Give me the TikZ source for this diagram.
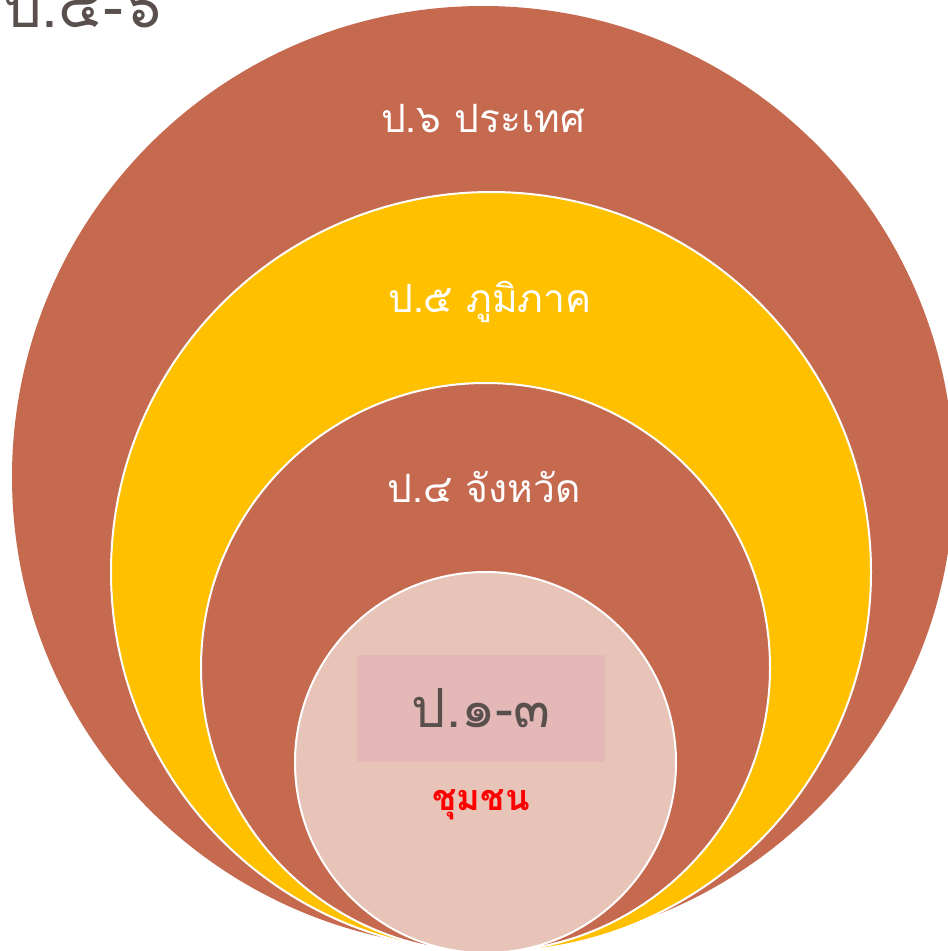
\documentclass[tikz,border=0pt]{standalone}
\usepackage{fontspec}
\newfontfamily\thaifont[Script=Thai]{Loma}
\usetikzlibrary{positioning}
\definecolor{brick}{RGB}{197,105,79}
\definecolor{gold}{RGB}{255,192,0}
\definecolor{blush}{RGB}{232,195,184}
\definecolor{rose}{RGB}{229,184,184}
\definecolor{ink}{RGB}{89,80,78}
\begin{document}
\begin{tikzpicture}[x=1pt,y=-1pt,
  ring/.style={circle,draw=white,line width=2pt,inner sep=0pt},
  lbl/.style={font=\thaifont\fontsize{39}{44}\selectfont,text=white}]
\useasboundingbox (0,0) rectangle (948,951);
% rings from outside in
\node[ring,draw=none,fill=brick,minimum size=942pt] (p6) at (483,477) {};
\node[ring,fill=gold,minimum size=760pt] (p5) at (491,572) {};
\node[ring,fill=brick,minimum size=569pt] (p4) at (485.5,667.5) {};
\node[ring,fill=blush,minimum size=381pt] (p13) at (485.5,762.5) {};
% labels
\node[lbl] (t6) at (483,119) {ป.๖ ประเทศ};
\node[lbl] (t5) at (490,302) {ป.๕ ภูมิภาค};
\node[lbl] (t4) at (484,487) {ป.๔ จังหวัด};
\node[fill=rose,minimum width=248pt,minimum height=107pt,
  font=\thaifont\fontsize{54}{60}\selectfont,text=ink] (t13) at (481,708.5) {ป.๑-๓};
\node[below=24pt of t13,font=\thaifont\bfseries\fontsize{36}{42}\selectfont,text=red] (tc) {ชุมชน};
\node[anchor=west,font=\thaifont\fontsize{60}{66}\selectfont,text=ink] (top) at (0,6) {ป.๔-๖};
\end{tikzpicture}
\end{document}
